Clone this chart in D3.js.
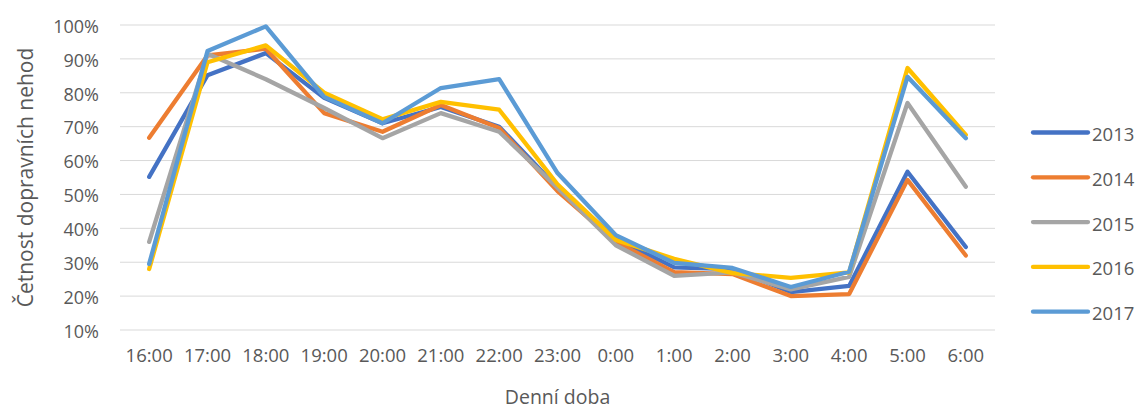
<!DOCTYPE html>
<html>
<head>
<meta charset="utf-8">
<script src="https://cdn.jsdelivr.net/npm/d3@7"></script>
<style>
  html, body { margin: 0; padding: 0; background: #fff; }
  svg { display: block; }
</style>
</head>
<body>
<svg id="chart" width="1139" height="410"></svg>
<script>
// Hours of the day on the x axis
const hours = ["16:00","17:00","18:00","19:00","20:00","21:00","22:00","23:00","0:00","1:00","2:00","3:00","4:00","5:00","6:00"];
const years = ["2013","2014","2015","2016","2017"];
const yTicks = [0.1,0.2,0.3,0.4,0.5,0.6,0.7,0.8,0.9,1.0];

// Share of traffic accidents per hour, one array per year
const s2013 = [55.2, 85.2, 91.7, 78.5, 71.0, 75.8, 70.0, 52.0, 37.0, 28.5, 28.0, 21.2, 23.0, 56.7, 34.5];
const s2014 = [66.7, 91.0, 93.0, 74.0, 68.5, 76.4, 69.6, 51.0, 36.0, 27.1, 26.5, 20.0, 20.6, 54.3, 32.0];
const s2015 = [36.0, 91.5, 84.0, 75.5, 66.6, 74.0, 68.5, 52.0, 35.0, 26.0, 27.0, 22.0, 25.7, 77.0, 52.3];
const s2016 = [28.0, 89.0, 94.0, 80.0, 72.2, 77.3, 75.0, 53.0, 36.6, 31.0, 26.8, 25.4, 27.0, 87.3, 67.6];
const s2017 = [29.5, 92.3, 99.6, 78.8, 71.0, 81.4, 84.0, 56.3, 38.0, 29.8, 28.3, 22.7, 27.2, 84.7, 66.6];
const seriesValues = [s2013, s2014, s2015, s2016, s2017];
const colors = ["#4472C4", "#ED7D31", "#A5A5A5", "#FFC000", "#5B9BD5"];

const svg = d3.select("#chart");
const font = "'Open Sans', 'Noto Sans', sans-serif";
const textColor = "#595959";

const plot = { left: 120, right: 995, top: 25, bottom: 330 };

const x = d3.scaleBand().domain(hours).range([plot.left, plot.right]).paddingInner(0).paddingOuter(0);
const y = d3.scaleLinear().domain([0.1, 1.0]).range([plot.bottom, plot.top]);

// Horizontal gridlines
svg.append("g")
  .selectAll("line")
  .data(yTicks)
  .join("line")
  .attr("x1", plot.left).attr("x2", plot.right)
  .attr("y1", d => y(d)).attr("y2", d => y(d))
  .attr("stroke", "#d9d9d9").attr("stroke-width", 1);

// Y axis labels
const yAxis = d3.axisLeft(y).tickValues(yTicks).tickFormat(d3.format(".0%")).tickSize(0).tickPadding(0);
const gy = svg.append("g").attr("transform", `translate(${plot.left - 21},1.5)`).call(yAxis);
gy.select(".domain").remove();
gy.selectAll("text").attr("font-family", font).attr("font-size", 18).attr("fill", textColor);

// X axis labels
const xAxis = d3.axisBottom(x).tickSize(0).tickPadding(0);
const gx = svg.append("g").attr("transform", `translate(0,${plot.bottom + 19})`).call(xAxis);
gx.select(".domain").remove();
gx.selectAll("text").attr("font-family", font).attr("font-size", 18.5).attr("fill", textColor);

// Axis titles
svg.append("text")
  .attr("transform", `translate(25,${(plot.top + plot.bottom) / 2}) rotate(-90)`)
  .attr("text-anchor", "middle").attr("dominant-baseline", "central")
  .attr("font-family", font).attr("font-size", 21).attr("fill", textColor)
  .text("Četnost dopravních nehod");

svg.append("text")
  .attr("x", (plot.left + plot.right) / 2).attr("y", 404)
  .attr("text-anchor", "middle")
  .attr("font-family", font).attr("font-size", 19.5).attr("fill", textColor)
  .text("Denní doba");

// Lines
const line = d3.line()
  .x((d, i) => x(hours[i]) + x.bandwidth() / 2)
  .y(d => y(d / 100));

svg.append("g")
  .selectAll("path")
  .data(seriesValues)
  .join("path")
  .attr("d", d => line(d))
  .attr("fill", "none")
  .attr("stroke", (d, i) => colors[i])
  .attr("stroke-width", 4.3)
  .attr("stroke-linejoin", "round")
  .attr("stroke-linecap", "round");

// Legend
const legend = svg.append("g");
const legendRows = legend.selectAll("g")
  .data(years)
  .join("g")
  .attr("transform", (d, i) => `translate(1033,${132.5 + i * 44.8})`);
legendRows.append("line")
  .attr("x1", 0).attr("x2", 55).attr("y1", 0).attr("y2", 0)
  .attr("stroke", (d, i) => colors[i]).attr("stroke-width", 4.3)
  .attr("stroke-linecap", "round");
legendRows.append("text")
  .attr("x", 59).attr("y", 1).attr("dominant-baseline", "central")
  .attr("font-family", font).attr("font-size", 18.5).attr("fill", textColor)
  .text(d => d);
</script>
</body>
</html>
